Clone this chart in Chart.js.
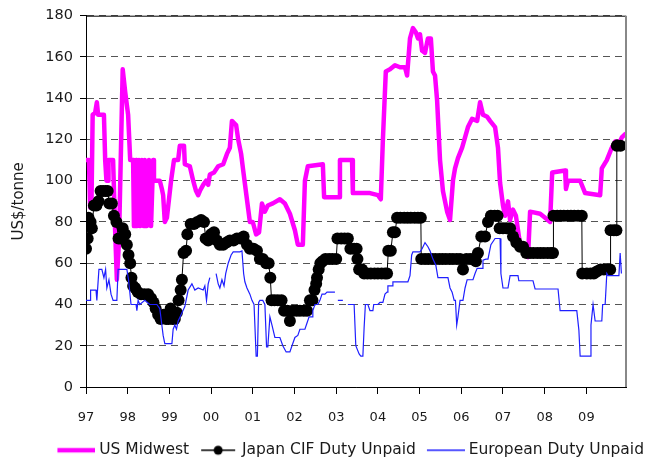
<!DOCTYPE html>
<html>
<head>
<meta charset="utf-8">
<title>Prices 1997-2009</title>
<script src="https://cdn.jsdelivr.net/npm/chart.js@4.4.0/dist/chart.umd.min.js"></script>
<style>
  html, body { margin: 0; padding: 0; background: #fff; }
  #wrap { width: 646px; height: 461px; }
</style>
</head>
<body>
<div id="wrap"><canvas id="chart" width="646" height="461"></canvas></div>
<script>
// ── data (x in decimal years) ──
const yearLabels = ['97', '98', '99', '00', '01', '02', '03', '04', '05', '06', '07', '08', '09'];
const seriesNames = ['US Midwest', 'Japan CIF Duty Unpaid', 'European Duty Unpaid'];

const usYears = [1997.00,1997.07,1997.10,1997.13,1997.16,1997.22,1997.26,1997.29,1997.43,1997.46,
  1997.49,1997.53,1997.54,1997.65,1997.70,1997.74,1997.79,1997.88,1997.94,1998.01,
  1998.06,1998.13,1998.15,1998.20,1998.22,1998.27,1998.30,1998.34,1998.39,1998.41,
  1998.46,1998.51,1998.56,1998.61,1998.63,1998.77,1998.82,1998.85,1998.89,1998.94,
  1999.04,1999.11,1999.21,1999.25,1999.35,1999.37,1999.49,1999.57,1999.64,1999.69,
  1999.73,1999.81,1999.88,1999.93,1999.97,2000.07,2000.17,2000.29,2000.38,2000.45,
  2000.50,2000.60,2000.65,2000.72,2000.77,2000.84,2000.93,2001.00,2001.08,2001.15,
  2001.22,2001.29,2001.36,2001.48,2001.65,2001.77,2001.89,2002.01,2002.08,2002.20,
  2002.25,2002.32,2002.68,2002.71,2003.07,2003.09,2003.38,2003.40,2003.81,2004.00,
  2004.07,2004.12,2004.19,2004.29,2004.41,2004.53,2004.65,2004.70,2004.77,2004.84,
  2004.91,2004.96,2005.01,2005.06,2005.13,2005.20,2005.27,2005.32,2005.37,2005.42,
  2005.49,2005.56,2005.66,2005.73,2005.80,2005.85,2005.92,2006.02,2006.09,2006.16,
  2006.26,2006.38,2006.45,2006.52,2006.62,2006.69,2006.81,2006.88,2006.93,2007.00,
  2007.05,2007.12,2007.17,2007.24,2007.31,2007.41,2007.50,2007.60,2007.65,2007.89,
  2008.01,2008.13,2008.18,2008.49,2008.51,2008.56,2008.85,2008.97,2009.33,2009.37,
  2009.49,2009.61,2009.69,2009.76,2009.85,2009.95];
const usValues = [110,110,87,87,132,133,138,132,132,110,
  100,100,110,110,75,52,70,154,143,132,
  110,110,78,110,78,110,78,110,78,110,
  78,110,78,110,100,100,96,93,80,82,
  100,110,110,117,117,108,107,100,95,93,
  95,98,100,98,103,104,107,108,113,116,
  129,127,120,113,105,94,80,80,74,75,
  89,85,88,89,91,89,84,76,69,69,
  100,107,108,92,92,110,110,94,94,93,
  91,120,153,154,156,155,155,151,169,174,
  172,169,171,163,162,169,169,153,151,139,
  110,95,85,81,100,106,111,116,121,126,
  130,129,138,132,131,129,126,116,99,88,
  83,90,81,86,83,69,65,63,85,84,
  82,80,104,105,96,100,100,94,93,106,
  110,116,119,117,121,123];

const jpYears = [1997.00,1997.04,1997.06,1997.11,1997.14,1997.19,1997.25,1997.30,1997.35,1997.41,
  1997.47,1997.52,1997.56,1997.62,1997.67,1997.73,1997.78,1997.83,1997.88,1997.94,
  1997.98,1998.02,1998.06,1998.09,1998.13,1998.18,1998.24,1998.32,1998.40,1998.49,
  1998.56,1998.62,1998.67,1998.73,1998.79,1998.86,1998.92,1998.98,1999.03,1999.07,
  1999.13,1999.18,1999.22,1999.27,1999.30,1999.34,1999.40,1999.43,1999.51,1999.59,
  1999.67,1999.76,1999.83,1999.87,1999.93,2000.00,2000.07,2000.14,2000.21,2000.29,
  2000.37,2000.45,2000.54,2000.62,2000.71,2000.78,2000.86,2000.93,2001.02,2001.10,
  2001.17,2001.24,2001.32,2001.38,2001.42,2001.45,2001.52,2001.60,2001.69,2001.75,
  2001.83,2001.89,2001.96,2002.05,2002.13,2002.22,2002.30,2002.37,2002.43,2002.48,
  2002.52,2002.54,2002.58,2002.62,2002.67,2002.74,2002.83,2002.91,2003.00,2003.03,
  2003.12,2003.20,2003.28,2003.34,2003.43,2003.49,2003.51,2003.55,2003.62,2003.67,
  2003.75,2003.83,2003.92,2004.00,2004.09,2004.17,2004.22,2004.25,2004.31,2004.36,
  2004.41,2004.46,2004.54,2004.63,2004.71,2004.79,2004.88,2004.96,2005.03,2005.04,
  2005.13,2005.21,2005.30,2005.38,2005.47,2005.55,2005.63,2005.72,2005.80,2005.89,
  2005.97,2006.04,2006.12,2006.21,2006.29,2006.35,2006.40,2006.48,2006.57,2006.64,
  2006.71,2006.80,2006.87,2006.92,2007.00,2007.08,2007.17,2007.24,2007.32,2007.41,
  2007.48,2007.56,2007.65,2007.73,2007.82,2007.90,2007.98,2008.07,2008.15,2008.20,
  2008.21,2008.30,2008.38,2008.46,2008.55,2008.63,2008.71,2008.80,2008.89,2008.90,
  2009.01,2009.10,2009.18,2009.25,2009.34,2009.42,2009.51,2009.57,2009.58,2009.66,
  2009.72,2009.73,2009.82];
const jpValues = [67,72,82,80,77,88,88,90,95,95,
  95,95,89,89,83,80,72,72,77,74,
  69,64,60,53,49,48,46,45,45,45,
  43,41,38,35,33,35,33,33,38,33,
  33,36,42,47,52,65,66,74,79,79,
  80,81,80,72,71,74,75,71,69,69,
  70,71,71,72,72,73,69,67,67,66,
  62,62,60,60,53,42,42,42,42,37,
  37,32,37,37,37,37,37,42,42,47,
  50,53,57,60,61,62,62,62,62,72,
  72,72,72,67,67,67,62,57,57,55,
  55,55,55,55,55,55,55,66,66,75,
  75,82,82,82,82,82,82,82,82,62,
  62,62,62,62,62,62,62,62,62,62,
  62,57,62,62,62,61,65,73,73,80,
  83,83,83,77,77,77,77,73,70,68,
  68,65,65,65,65,65,65,65,65,65,
  83,83,83,83,83,83,83,83,83,55,
  55,55,55,56,57,57,57,57,76,76,
  76,117,117];

// null = break in the European series
const euYears = [1997.00,1997.10,1997.11,1997.24,1997.26,1997.31,1997.38,1997.43,1997.47,1997.50,
  1997.55,1997.60,1997.65,1997.74,1997.77,1997.98,1998.02,1998.08,1998.20,1998.22,
  1998.25,1998.29,1998.41,1998.53,1998.70,1998.77,1998.85,1998.89,1999.06,1999.09,
  1999.13,1999.17,1999.21,1999.28,1999.37,1999.45,1999.54,1999.61,1999.69,1999.81,
  1999.85,1999.89,1999.93,1999.97,2000.05,2000.12,2000.17,2000.21,2000.26,2000.31,
  2000.35,2000.41,2000.48,2000.53,2000.69,2000.74,2000.78,2000.81,2000.86,2000.93,
  2000.98,2001.03,2001.08,2001.11,2001.14,2001.17,2001.24,2001.29,2001.33,2001.36,
  2001.41,2001.46,2001.53,2001.65,2001.72,2001.80,2001.89,2001.94,2002.01,2002.08,
  2002.13,2002.25,2002.30,2002.35,2002.42,2002.44,2002.49,2002.56,2002.61,2002.66,
  2002.73,2002.78,2002.97,2003.00,2003.04,2003.16,2003.20,2003.28,2003.43,2003.47,
  2003.55,2003.59,2003.64,2003.67,2003.70,2003.76,2003.81,2003.88,2003.90,2004.00,
  2004.05,2004.12,2004.17,2004.22,2004.24,2004.34,2004.36,2004.72,2004.77,2004.81,
  2004.84,2005.01,2005.06,2005.13,2005.20,2005.25,2005.32,2005.39,2005.44,2005.68,
  2005.73,2005.78,2005.80,2005.83,2005.86,2005.89,2005.92,2005.97,2006.04,2006.09,
  2006.14,2006.28,2006.33,2006.38,2006.50,2006.52,2006.59,2006.64,2006.71,2006.81,
  2006.93,2006.95,2007.00,2007.12,2007.17,2007.36,2007.38,2007.72,2007.77,2008.32,
  2008.37,2008.77,2008.82,2008.85,2009.09,2009.11,2009.16,2009.21,2009.37,2009.39,
  2009.45,2009.49,2009.52,2009.78,2009.81,2009.84];
const euValues = [42,42,47,47,42,57,57,53,57,48,
  52,45,42,42,57,57,52,40,40,37,
  42,40,42,40,40,38,25,21,21,28,
  30,28,32,35,39,47,50,47,48,47,
  49,42,50,53,null,55,50,48,52,49,
  55,60,64,65.5,65.5,66,55,51,48,45,
  42,40,15,15,41,42,42,40,19.5,19.5,
  34,30,24,24,20,17,17,20,24,25,
  28,28,31,34,34,37,40,40,42,45,
  45,46,46,null,42,42,null,40,40,20,
  16,15,15,29,40,40,37,37,40,40,
  41,41,45,46,49,49,51,51,54,64,
  65.5,65.5,67,70,68,66,62,59,53,53,
  48,46,46,42,42,30,34,42,42,48,
  52,52,55,57.5,57.5,61.5,62,62,69,72,
  72,55,48,48,54,54,51.5,51.5,47.5,47.5,
  37,37,27.6,15,15,30,40,32,32,40,
  40,55,54,54,65,55];

const FONT = 'DejaVu Sans';
const INK = '#1a1a1a';

function toPoints(xs, ys) {
  return xs.map((x, i) => ({ x, y: ys[i] }));
}

// legend symbols: line (and dot) drawn into a small canvas
function swatch(color, width, x0, x1, dot) {
  const c = document.createElement('canvas');
  c.width = 48;
  c.height = 16;
  const g = c.getContext('2d');
  g.strokeStyle = color;
  g.lineWidth = width;
  g.beginPath();
  g.moveTo(x0, 8);
  g.lineTo(x1, 8);
  g.stroke();
  if (dot) {
    g.fillStyle = color;
    g.beginPath();
    g.arc(dot, 8, 4.5, 0, Math.PI * 2);
    g.fill();
  }
  return c;
}
const swatches = [
  swatch('#ff00ff', 4.5, 10, 48),
  swatch('#000000', 1.3, 11, 45, 28),
  swatch('#1f1fff', 1.5, 10, 48),
];

// solid top edge and grey right edge of the plot area
const frame = {
  id: 'frame',
  afterDatasetsDraw(chart) {
    const { ctx, chartArea: a } = chart;
    ctx.save();
    ctx.lineWidth = 1;
    ctx.strokeStyle = '#000';
    ctx.beginPath();
    ctx.moveTo(a.left, a.top + 0.5);
    ctx.lineTo(a.right, a.top + 0.5);
    ctx.stroke();
    ctx.strokeStyle = '#888';
    ctx.lineWidth = 2;
    ctx.beginPath();
    ctx.moveTo(a.right, a.top);
    ctx.lineTo(a.right, a.bottom);
    ctx.stroke();
    ctx.restore();
  }
};

new Chart(document.getElementById('chart'), {
  type: 'line',
  data: {
    datasets: [
      {
        label: seriesNames[0],
        data: toPoints(usYears, usValues),
        borderColor: '#ff00ff',
        borderWidth: 4.5,
        borderJoinStyle: 'round',
        pointRadius: 0,
        order: 3,
      },
      {
        label: seriesNames[1],
        data: toPoints(jpYears, jpValues),
        borderColor: '#000000',
        borderWidth: 1,
        pointRadius: 6,
        pointBorderWidth: 0,
        pointBackgroundColor: '#000000',
        order: 2,
      },
      {
        label: seriesNames[2],
        data: toPoints(euYears, euValues),
        borderColor: '#1f1fff',
        borderWidth: 1.2,
        pointRadius: 0,
        spanGaps: false,
        order: 1,
      }
    ]
  },
  options: {
    responsive: false,
    animation: false,
    devicePixelRatio: 1,
    layout: { padding: { top: 15, right: -3, bottom: -7, left: 0 } },
    plugins: {
      legend: {
        position: 'bottom',
        align: 'end',
        labels: {
          usePointStyle: true,
          pointStyleWidth: 40,
          padding: 5,
          color: INK,
          font: { family: FONT, size: 15.5 },
          sort: (a, b) => a.datasetIndex - b.datasetIndex,
          generateLabels(chart) {
            const items = Chart.defaults.plugins.legend.labels.generateLabels(chart);
            items.forEach(it => { it.pointStyle = swatches[it.datasetIndex]; });
            return items;
          }
        }
      },
      tooltip: { enabled: false }
    },
    scales: {
      x: {
        type: 'linear',
        min: 1997,
        max: 2009.95,
        ticks: {
          stepSize: 1,
          includeBounds: false,
          autoSkip: false,
          maxRotation: 0,
          padding: 15.5,
          color: INK,
          font: { family: FONT, size: 13 },
          callback: v => yearLabels[Math.round(v) - 1997] ?? ''
        },
        grid: { drawOnChartArea: false, tickLength: 7, tickColor: '#000', tickWidth: 1 },
        border: { color: '#000', width: 1 },
        afterFit: s => { s.height = 50.5; }
      },
      y: {
        min: 0,
        max: 180,
        ticks: { stepSize: 20, padding: 7, color: INK, font: { family: FONT, size: 14.5 } },
        grid: { color: '#555', lineWidth: 1, tickLength: 6, tickColor: '#000', tickWidth: 1 },
        border: { color: '#000', width: 1, dash: [7, 5] },
        title: {
          display: true,
          text: 'US$/tonne',
          color: INK,
          font: { family: FONT, size: 15 },
          padding: { top: 10.5, bottom: 0 }
        },
        afterFit: s => { s.width = 86; }
      },
      yRight: {
        position: 'right',
        grid: { display: false },
        ticks: { display: false },
        border: { display: false },
        afterFit: s => { s.width = 23; }
      }
    }
  },
  plugins: [frame]
});
</script>
</body>
</html>
